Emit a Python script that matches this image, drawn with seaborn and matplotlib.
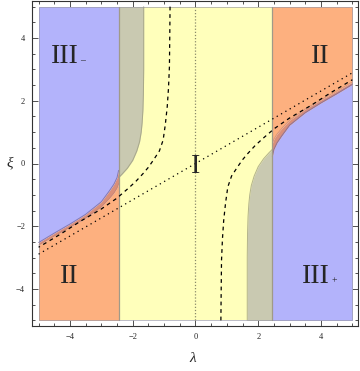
import numpy as np
import pandas as pd
import matplotlib
matplotlib.use("Agg")
import matplotlib.pyplot as plt
import seaborn as sns

# ---- data (left half; right half is its point mirror) ----
lam_edge = 2.45                     # vertical boundary of region I
# lower boundary of region III (left)
b_lam = [-5.0, -4.5, -4.0, -3.5, -3.0, -2.75, -2.6, -2.5, -2.45]
b_xi = [-2.52, -2.22, -1.93, -1.62, -1.22, -0.88, -0.66, -0.45, -0.22]
# upper boundary of region II (left)
l_lam = [-5.0, -4.5, -4.0, -3.5, -3.0, -2.75, -2.6, -2.5, -2.45]
l_xi = [-2.60, -2.31, -2.03, -1.74, -1.38, -1.12, -0.94, -0.78, -0.64]
# boundary of grey overlap (left), given as lambda(xi)
g_xi = [5.0, 3.0, 2.2, 1.7, 1.3, 1.0, 0.7, 0.4, 0.1, -0.15, -0.35, -0.45]
g_lam = [-1.65, -1.65, -1.66, -1.675, -1.70, -1.73, -1.78, -1.87, -2.0, -2.17, -2.35, -2.45]
# dashed curve (left branch)
d_lam = [-0.81, -0.82, -0.83, -0.86, -0.90, -0.96, -1.03, -1.15, -1.34, -1.50,
         -1.66, -1.90, -2.14, -2.51, -3.0, -3.68, -4.3, -5.0]
d_xi = [5.0, 4.0, 3.09, 2.4, 1.81, 1.25, 0.75, 0.40, 0.11, -0.12,
        -0.31, -0.57, -0.79, -1.11, -1.45, -1.85, -2.25, -2.67]
# dotted straight line
t_lam = [-5.0, 5.0]
t_xi = [-2.89, 2.89]

labels = ["III", "II", "II", "III", "I"]
lab_lam = [-4.16, 3.98, -4.02, 3.84, 0.0]
lab_xi = [3.2, 3.2, -3.81, -3.81, -0.3]
subs = ["\u2013", "+"]
sub_lam = [-3.59, 4.41]
sub_xi = [3.2, -3.81]

blue = "#b3b3fb"
orange = "#fdb07f"
yellow = "#ffffbb"
grey = "#c9c9b1"
red = "#d98f7a"

sns.set_style("ticks")
plt.rcParams["font.family"] = ["Liberation Serif", "DejaVu Serif"]

fig = plt.figure(figsize=(3.6, 3.71), dpi=100)
ax = fig.add_axes([32/360, 1-326/371, 326/360, 325/371])

def mirror(a):
    return [-v for v in a]

# region I
ax.fill_between([-lam_edge, lam_edge], [-5, -5], [5, 5], color=yellow, lw=0, zorder=1)

for sgn in (1, -1):
    s = (lambda a: a) if sgn == 1 else mirror
    bl, bx = s(b_lam), s(b_xi)
    ll, lx = s(l_lam), s(l_xi)
    gl, gx = s(g_lam), s(g_xi)
    top = 5 * sgn
    bot = -5 * sgn
    # region III
    ax.fill_between(bl, bx, [top]*len(bl), color=blue, lw=0, zorder=2)
    # region II
    ax.fill_between(ll, [bot]*len(ll), lx, color=orange, lw=0, zorder=2)
    # overlap band
    ax.fill_between(bl, lx, bx, color=red, lw=0, zorder=2)
    # grey overlap
    ax.fill_betweenx(gx, [-lam_edge*sgn]*len(gx), gl, color=grey, lw=0, zorder=2)
    # boundary lines
    ax.plot(bl, bx, color="#7a6aa0", lw=0.7, alpha=0.8, zorder=3)
    ax.plot(ll, lx, color="#c08070", lw=0.6, alpha=0.6, zorder=3)
    ax.plot(gl, gx, color="#a0a080", lw=0.7, alpha=0.8, zorder=3)
    ax.plot([-lam_edge*sgn]*2, [-5, 5], color="#a09a88", lw=0.9, zorder=3)
    # dashed branch
    sns.lineplot(x=s(d_lam), y=s(d_xi), ax=ax, color="black", lw=0.9,
                 linestyle=(0, (3, 3)), sort=False, estimator=None, zorder=4)

# outer border of the plotted region
ax.plot([-5, 5, 5, -5, -5], [-5, -5, 5, 5, -5], color="#9090a0", lw=0.7, alpha=0.6, zorder=3)

sns.lineplot(x=t_lam, y=t_xi, ax=ax, color="black", lw=0.9,
             linestyle=(0, (1, 3)), sort=False, estimator=None, zorder=4)
sns.lineplot(x=[0, 0], y=[-5, 5], ax=ax, color="#8a8a6a", lw=0.9, orient="y",
             linestyle=(0, (1, 1.5)), sort=False, estimator=None, zorder=4)

for t, x, y in zip(labels, lab_lam, lab_xi):
    ax.text(x, y, t, fontsize=20, ha="center", va="baseline", zorder=5)
for t, x, y in zip(subs, sub_lam, sub_xi):
    ax.text(x, y, t, fontsize=7, ha="center", va="baseline", zorder=5)

ax.set_xlim(-5.21, 5.18)
ax.set_ylim(-5.18, 5.18)
ax.set_xticks([-4, -2, 0, 2, 4])
ax.set_yticks([-4, -2, 0, 2, 4])
ax.set_xticks(np.arange(-5, 5.01, 0.5), minor=True)
ax.set_yticks(np.arange(-5, 5.01, 0.5), minor=True)
ax.set_xticklabels(["\u22124", "\u22122", "0", "2", "4"])
ax.set_yticklabels(["\u22124", "\u22122", "0", "2", "4"])
ax.tick_params(which="both", direction="in", top=True, right=True, labelsize=6,
               color="#333333", width=0.6, pad=5)
ax.tick_params(which="major", length=4)
ax.tick_params(which="minor", length=2)
for sp in ax.spines.values():
    sp.set_visible(True)
    sp.set_color("#333333")
    sp.set_linewidth(0.8)
ax.set_xlabel("")
ax.set_ylabel("")
fig.text(10/360, 1-163/371, "\u03be", fontsize=11, style="italic", ha="center", va="center")
fig.text(193/360, 1-358/371, "\u03bb", fontsize=11, style="italic", ha="center", va="center")

fig.savefig("out.png", dpi=100)
